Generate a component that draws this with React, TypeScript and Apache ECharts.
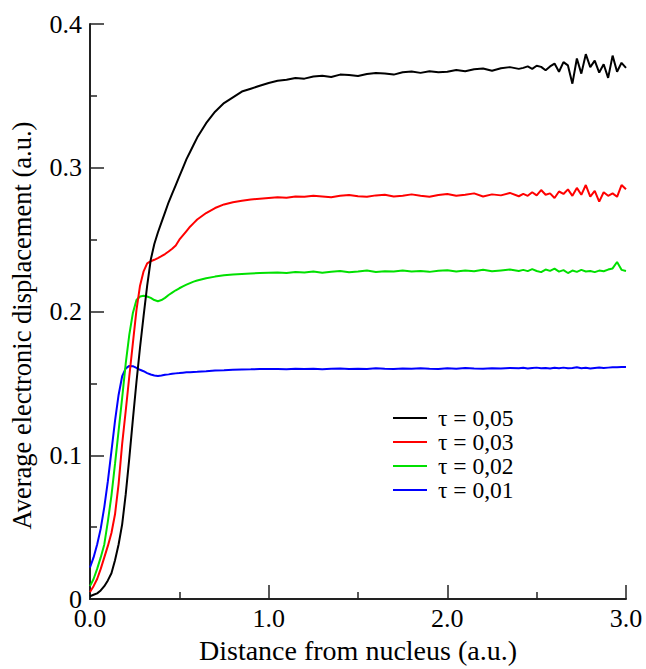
import React, { useEffect, useRef } from "react";
import * as echarts from "echarts";

// x positions (Distance from nucleus, a.u.)
const xs = [
  0, 0.02, 0.04, 0.06, 0.08, 0.10, 0.12, 0.14, 0.16, 0.18, 0.20, 0.22, 0.24, 0.26, 0.28, 0.30,
  0.32, 0.34, 0.36, 0.38, 0.40, 0.42, 0.44, 0.46, 0.48, 0.50, 0.52, 0.54, 0.56, 0.58, 0.60,
  0.65, 0.70, 0.75, 0.80, 0.85, 0.90, 0.95, 1.00,
  1.05, 1.10, 1.15, 1.20, 1.25, 1.30, 1.35, 1.40, 1.45, 1.50, 1.55, 1.60, 1.65, 1.70,
  1.75, 1.80, 1.85, 1.90, 1.95, 2.00, 2.05, 2.10, 2.15, 2.20, 2.25, 2.30, 2.35, 2.40,
  2.425, 2.45, 2.475, 2.50, 2.525, 2.55, 2.575, 2.60, 2.625, 2.65, 2.675, 2.70,
  2.725, 2.75, 2.775, 2.80, 2.825, 2.85, 2.875, 2.90, 2.925, 2.95, 2.975, 3.00,
];

const tau005 = [
  0.002, 0.003, 0.004, 0.006, 0.009, 0.013, 0.018, 0.027, 0.038, 0.052, 0.073, 0.098, 0.125, 0.151, 0.175, 0.197,
  0.218, 0.236, 0.247, 0.255, 0.262, 0.269, 0.276, 0.282, 0.288, 0.294, 0.300, 0.306, 0.311, 0.316, 0.321,
  0.331, 0.339, 0.345, 0.349, 0.353, 0.355, 0.357, 0.359,
  0.3605, 0.3612, 0.3625, 0.3620, 0.3635, 0.3640, 0.3632, 0.3648, 0.3645, 0.3638, 0.3652, 0.3660, 0.3655, 0.3648,
  0.3665, 0.3670, 0.3660, 0.3672, 0.3665, 0.3668, 0.3680, 0.3672, 0.3685, 0.3690, 0.3675, 0.3692, 0.3700, 0.3688,
  0.3695, 0.3705, 0.3688, 0.3710, 0.3702, 0.3678, 0.3705, 0.3725, 0.3668, 0.3735, 0.3712, 0.3585,
  0.3760, 0.3655, 0.3790, 0.3700, 0.3745, 0.3662, 0.3720, 0.3625, 0.3780, 0.3668, 0.3730, 0.3695,
];

const tau003 = [
  0.005, 0.009, 0.014, 0.021, 0.029, 0.037, 0.046, 0.059, 0.080, 0.108, 0.131, 0.155, 0.178, 0.201, 0.218, 0.228,
  0.2335, 0.235, 0.236, 0.2372, 0.2385, 0.240, 0.2418, 0.2437, 0.246, 0.250, 0.253, 0.256, 0.259, 0.2615, 0.264,
  0.2685, 0.272, 0.2745, 0.276, 0.277, 0.278, 0.2785, 0.279,
  0.2795, 0.2792, 0.2800, 0.2798, 0.2805, 0.2800, 0.2795, 0.2805, 0.2810, 0.2802, 0.2798, 0.2808, 0.2812, 0.2800,
  0.2806, 0.2815, 0.2805, 0.2798, 0.2810, 0.2818, 0.2805, 0.2812, 0.2822, 0.2800, 0.2815, 0.2808, 0.2825, 0.2802,
  0.2818, 0.2805, 0.2830, 0.2808, 0.2845, 0.2812, 0.2822, 0.2790, 0.2835, 0.2818, 0.2850, 0.2805,
  0.2860, 0.2812, 0.2880, 0.2800, 0.2840, 0.2765, 0.2830, 0.2805, 0.2822, 0.2798, 0.2880, 0.2850,
];

const tau002 = [
  0.009, 0.014, 0.021, 0.029, 0.038, 0.054, 0.072, 0.094, 0.117, 0.140, 0.164, 0.184, 0.199, 0.208, 0.2105, 0.211,
  0.2105, 0.2095, 0.208, 0.2072, 0.208, 0.2095, 0.2115, 0.2132, 0.2148, 0.2162, 0.2175, 0.2187, 0.2198, 0.2208, 0.2216,
  0.2232, 0.2243, 0.2252, 0.2258, 0.2262, 0.2265, 0.2268, 0.2270,
  0.2272, 0.2268, 0.2275, 0.2272, 0.2278, 0.2270, 0.2276, 0.2282, 0.2274, 0.2278, 0.2285, 0.2275, 0.2280, 0.2278,
  0.2286, 0.2279, 0.2282, 0.2276, 0.2284, 0.2288, 0.2279, 0.2285, 0.2281, 0.2290, 0.2280, 0.2286, 0.2292, 0.2282,
  0.2290, 0.2281, 0.2295, 0.2282, 0.2274, 0.2292, 0.2283, 0.2298, 0.2278, 0.2288, 0.2268, 0.2285,
  0.2276, 0.2290, 0.2279, 0.2282, 0.2274, 0.2285, 0.2280, 0.2292, 0.2300, 0.2345, 0.2290, 0.2282,
];

const tau001 = [
  0.022, 0.029, 0.038, 0.049, 0.064, 0.082, 0.103, 0.124, 0.142, 0.155, 0.1605, 0.1622, 0.1620, 0.1608, 0.1595, 0.1585,
  0.1572, 0.1562, 0.1555, 0.1552, 0.1555, 0.1560, 0.1563, 0.1567, 0.1570, 0.1572, 0.1575, 0.1577, 0.1578, 0.1580, 0.1581,
  0.1585, 0.1590, 0.1592, 0.1595, 0.1597, 0.1598, 0.1600, 0.1600,
  0.1601, 0.1598, 0.1602, 0.1600, 0.1603, 0.1599, 0.1602, 0.1604, 0.1600, 0.1603, 0.1601, 0.1605, 0.1602, 0.1600,
  0.1604, 0.1602, 0.1606, 0.1603, 0.1601, 0.1605, 0.1603, 0.1607, 0.1604, 0.1602, 0.1606, 0.1604, 0.1608, 0.1605,
  0.1609, 0.1604, 0.1607, 0.1610, 0.1605, 0.1608, 0.1604, 0.1609, 0.1606, 0.1610, 0.1605, 0.1608,
  0.1612, 0.1606, 0.1609, 0.1604, 0.1608, 0.1611, 0.1607, 0.1610, 0.1613, 0.1612, 0.1615, 0.1614,
];

const seriesNames = ["τ = 0,05", "τ = 0,03", "τ = 0,02", "τ = 0,01"];
const seriesValues = [tau005, tau003, tau002, tau001];
const seriesColors = ["#000000", "#ff0000", "#00e000", "#0000ff"];

const xAxisTitle = "Distance from nucleus (a.u.)";
const yAxisTitle = "Average electronic displacement (a.u.)";

const FONT = "'Liberation Serif', 'Times New Roman', serif";

export default function App() {
  const ref = useRef<HTMLDivElement>(null);

  useEffect(() => {
    document.body.style.margin = "0";
    if (!ref.current) return;
    const chart = echarts.init(ref.current, undefined, { renderer: "svg" });

    const axisCommon = {
      axisLine: { show: true, lineStyle: { color: "#222", width: 2 } },
      axisTick: { show: true, inside: true, length: 14, lineStyle: { color: "#222", width: 1.5 } },
      minorTick: { show: true, splitNumber: 2, length: 7, lineStyle: { color: "#222", width: 1.5 } },
      splitLine: { show: false },
      minorSplitLine: { show: false },
    };

    chart.setOption({
      animation: false,
      backgroundColor: "#ffffff",
      grid: { left: 89, right: 20, top: 24, bottom: 64, containLabel: false },
      legend: {
        orient: "vertical",
        left: 388,
        top: 401,
        icon: "rect",
        itemWidth: 34,
        itemHeight: 2,
        itemGap: 0,
        data: seriesNames,
        textStyle: {
          color: "#000",
          fontFamily: FONT,
          fontSize: 23.5,
          lineHeight: 22,
          padding: [0, 0, 0, 6],
        },
      },
      xAxis: {
        type: "value",
        min: 0,
        max: 3,
        interval: 1,
        ...axisCommon,
        name: xAxisTitle,
        nameLocation: "middle",
        nameGap: 34,
        nameTextStyle: { color: "#000", fontFamily: FONT, fontSize: 28 },
        axisLabel: {
          color: "#000",
          fontFamily: FONT,
          fontSize: 26,
          lineHeight: 18,
          margin: 10,
          formatter: (v: number) => v.toFixed(1),
        },
      },
      yAxis: {
        type: "value",
        min: 0,
        max: 0.4,
        interval: 0.1,
        ...axisCommon,
        name: yAxisTitle,
        nameLocation: "middle",
        nameGap: 55,
        nameTextStyle: {
          color: "#000",
          fontFamily: FONT,
          fontSize: 26.5,
          padding: [0, 28, 0, 0],
        },
        axisLabel: {
          color: "#000",
          fontFamily: FONT,
          fontSize: 26,
          lineHeight: 18,
          margin: 8,
          formatter: (v: number) => (v === 0 ? "0" : v.toFixed(1)),
        },
      },
      series: seriesNames.map((name, i) => ({
        name,
        type: "line",
        showSymbol: false,
        symbol: "none",
        smooth: false,
        color: seriesColors[i],
        lineStyle: { color: seriesColors[i], width: 2 },
        data: xs.map((x, j) => [x, seriesValues[i][j]]),
        z: 10 - i,
      })),
    });

    return () => chart.dispose();
  }, []);

  return <div ref={ref} style={{ width: 646, height: 669 }} />;
}
